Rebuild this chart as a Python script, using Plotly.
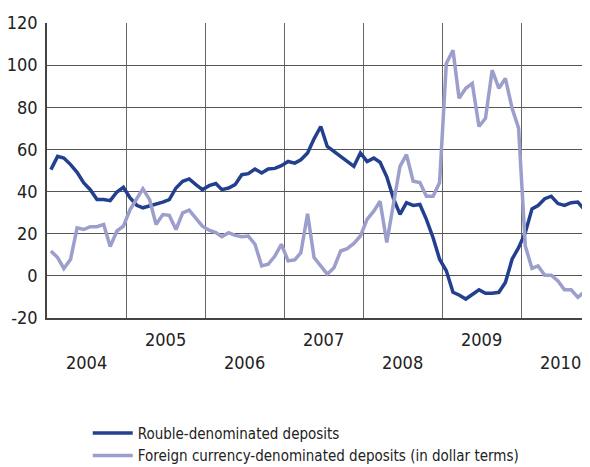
import pandas as pd
import plotly.graph_objects as go

# monthly observations, Jan 2004 .. Oct 2010 (y-o-y growth, %)
months = pd.date_range("2004-01-01", periods=82, freq="MS") + pd.Timedelta(days=18)

rouble = [
    50.4, 56.7, 55.9, 52.8, 49.1, 44.1, 40.9, 36.2, 36.2, 35.7, 39.8, 42.0,
    37.0, 33.5, 32.3, 33.1, 34.3, 35.0, 36.2, 41.7, 44.9, 46.0, 43.3, 40.9,
    42.8, 43.8, 40.9, 41.7, 43.3, 48.0, 48.5, 50.7, 48.8, 50.7, 51.0, 52.3,
    54.3, 53.5, 55.1, 58.3, 65.0, 70.9, 61.4, 59.1, 56.7, 54.3, 52.0, 58.3,
    54.3, 55.9, 53.9, 47.0, 37.0, 29.2, 34.7, 33.4, 33.9, 26.8, 18.1, 7.9,
    2.4, -7.8, -9.1, -11.0, -8.6, -6.6, -8.3, -8.3, -7.8, -3.1, 7.9, 13.4,
    20.5, 31.8, 33.4, 36.6, 37.8, 34.3, 33.4, 34.7, 35.0, 31.5,
]

foreign = [
    11.8, 8.7, 3.5, 7.9, 22.8, 22.0, 23.3, 23.3, 24.4, 13.9, 21.3, 23.6,
    31.5, 37.0, 41.3, 36.2, 24.4, 29.1, 28.7, 22.0, 29.9, 31.2, 27.1, 23.6,
    21.7, 20.5, 18.6, 20.5, 19.2, 18.6, 18.9, 15.0, 4.7, 5.5, 9.4, 15.0,
    7.1, 7.6, 11.0, 29.5, 8.7, 4.7, 0.8, 3.9, 11.8, 12.9, 15.4, 18.9,
    26.8, 30.7, 35.4, 15.8, 33.0, 52.0, 57.5, 44.9, 44.3, 37.8, 37.8, 44.3,
    100.8, 107.1, 84.3, 89.0, 91.3, 70.9, 74.8, 97.6, 89.0, 93.7, 79.5, 70.1,
    14.2, 3.5, 4.7, 0.3, 0.3, -2.4, -6.6, -6.6, -10.2, -7.6,
]

years = ["2004", "2005", "2006", "2007", "2008", "2009", "2010"]
y_ticks = [-20, 0, 20, 40, 60, 80, 100, 120]
y_labels = ["-20", "0", "20", "40", "60", "80", "100", "120"]

DARK = "#23408e"
LIGHT = "#9c9ecb"
FONT = "DejaVu Sans Condensed, Liberation Sans Narrow, sans-serif"

fig = go.Figure()
fig.add_trace(go.Scatter(x=months, y=rouble, mode="lines",
                         name="Rouble-denominated deposits",
                         line=dict(color=DARK, width=3.5)))
fig.add_trace(go.Scatter(x=months, y=foreign, mode="lines",
                         name="Foreign currency-denominated deposits (in dollar terms)",
                         line=dict(color=LIGHT, width=3.5)))

# year labels, staggered on two rows
for i, yr in enumerate(years):
    fig.add_annotation(x=f"{yr}-07-02", y=0, xref="x", yref="paper",
                       text=yr, showarrow=False, yanchor="middle",
                       yshift=-21 if i % 2 else -44,
                       font=dict(size=18, color="#222"))

# page body adds an 8px margin, so the figure is sized to the visible area
fig.update_layout(
    width=582, height=459,
    margin=dict(l=39, r=0, t=15, b=149, autoexpand=False),
    plot_bgcolor="white", paper_bgcolor="white",
    font=dict(family=FONT, size=18, color="#222"),
    showlegend=True,
    legend=dict(x=0.075, y=-0.335, xanchor="left", yanchor="top",
                font=dict(size=15), tracegroupgap=0, itemwidth=40,
                bgcolor="rgba(0,0,0,0)"),
)
fig.update_xaxes(
    type="date", range=["2004-01-01", "2010-11-14"],
    tick0="2004-01-01", dtick="M12", showticklabels=False,
    showgrid=True, gridcolor="#666", gridwidth=1.2,
    showline=True, linecolor="#444", linewidth=1.5, zeroline=False,
)
fig.update_yaxes(
    range=[-20, 120], tickvals=y_ticks, ticktext=y_labels, automargin=False,
    showgrid=True, gridcolor="#555", gridwidth=1.2,
    showline=True, linecolor="#444", linewidth=1.5, zeroline=False,
    ticks="", ticklabelstandoff=4,
)

fig.write_html("out.html")
